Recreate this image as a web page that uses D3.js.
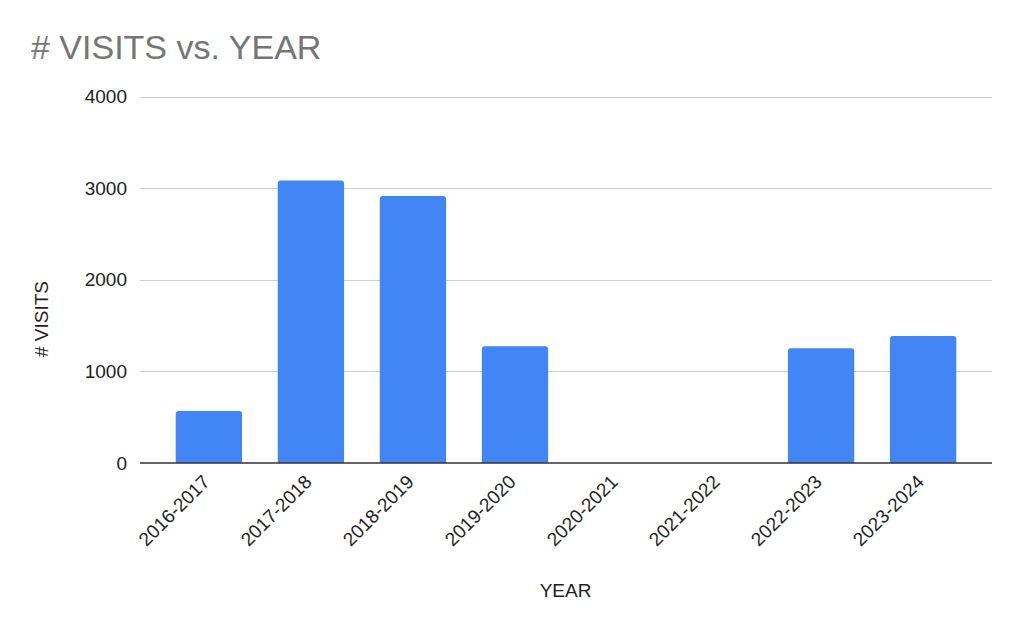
<!DOCTYPE html>
<html><head><meta charset="utf-8">
<script src="https://cdn.jsdelivr.net/npm/d3@7/dist/d3.min.js"></script>
<style>body{margin:0;background:#fff;font-family:Arial,"Liberation Sans",sans-serif;}</style>
</head><body>
<svg id="chart" width="1024" height="633"></svg>
<script>
const categories = ["2016-2017","2017-2018","2018-2019","2019-2020","2020-2021","2021-2022","2022-2023","2023-2024"];
const visits = [568, 3082, 2915, 1274, 0, 0, 1253, 1386];
const yTicks = [0, 1000, 2000, 3000, 4000];
const titleText = "# VISITS vs. YEAR";
const xTitle = "YEAR";
const yTitle = "# VISITS";

const svg = d3.select("#chart");
const font = "Arial, 'Liberation Sans', sans-serif";
svg.append("rect").attr("width",1024).attr("height",633).attr("fill","#fff");

const x = d3.scaleBand().domain(categories).range([140, 992]).paddingInner(0.35).paddingOuter(0.35);
const y = d3.scaleLinear().domain([0, 4000]).range([463, 96.5]);

// gridlines
svg.append("g").selectAll("line").data(yTicks.filter(d=>d>0)).join("line")
  .attr("x1",140).attr("x2",992)
  .attr("y1",d=>Math.round(y(d))+0.5).attr("y2",d=>Math.round(y(d))+0.5)
  .attr("stroke","#cccccc").attr("stroke-width",1);

// y tick labels
svg.append("g").selectAll("text").data(yTicks).join("text")
  .attr("x",127).attr("y",d=>y(d)).attr("dy","0.35em")
  .attr("text-anchor","end").attr("font-family",font).attr("font-size",19)
  .attr("fill","#222").text(d=>d);

// bars with rounded top corners
const r = 3;
svg.append("g").selectAll("path").data(categories.map((c,i)=>({c, v: visits[i]})).filter(d=>d.v>0)).join("path")
  .attr("d", d => {
    const x0 = x(d.c), w = x.bandwidth(), y0 = y(d.v), y1 = y(0);
    return `M${x0},${y1}V${y0+r}Q${x0},${y0} ${x0+r},${y0}H${x0+w-r}Q${x0+w},${y0} ${x0+w},${y0+r}V${y1}Z`;
  })
  .attr("fill","#4285f4");

// baseline
svg.append("line").attr("x1",140).attr("x2",992).attr("y1",y(0)).attr("y2",y(0))
  .attr("stroke","#333").attr("stroke-width",1.5);

// x tick labels
svg.append("g").selectAll("text").data(categories).join("text")
  .attr("transform", d => `translate(${x(d)+x.bandwidth()/2+2},${483}) rotate(-45)`)
  .attr("text-anchor","end").attr("font-family",font).attr("font-size",19)
  .attr("fill","#222").text(d=>d);

// title
svg.append("text").attr("x",31).attr("y",59).attr("font-family",font).attr("font-size",34)
  .attr("fill","#757575").text(titleText);

// axis titles
svg.append("text").attr("x",565.5).attr("y",597).attr("text-anchor","middle")
  .attr("font-family",font).attr("font-size",19).attr("fill","#222").text(xTitle);
svg.append("text").attr("transform","translate(48,319) rotate(-90)").attr("text-anchor","middle")
  .attr("font-family",font).attr("font-size",19).attr("fill","#222").text(yTitle);
</script>
</body></html>
